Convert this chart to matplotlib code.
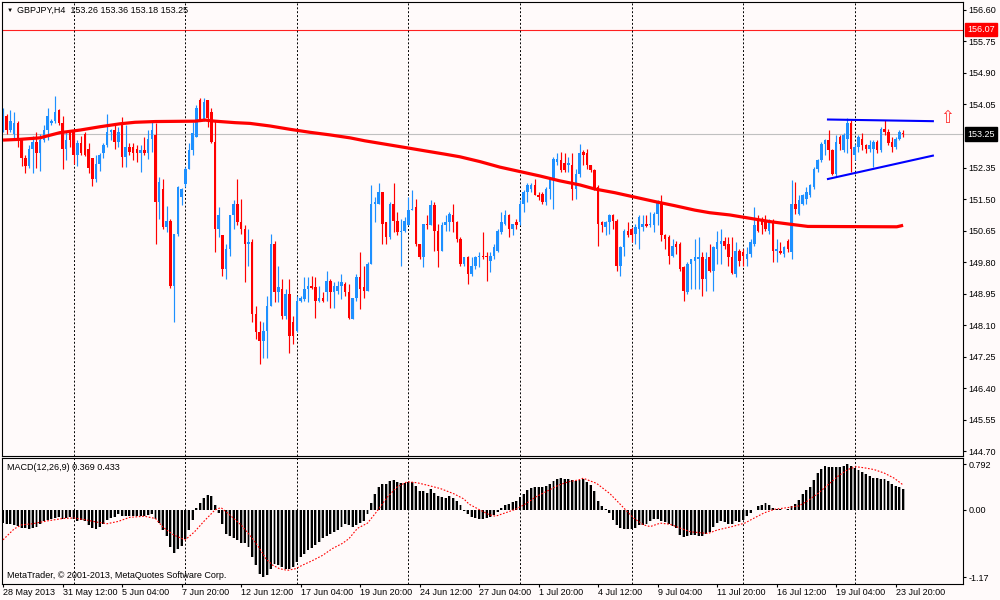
import matplotlib
matplotlib.use("Agg")
import matplotlib.pyplot as plt
import matplotlib.transforms as mtransforms
import numpy as np

# ----------------------------------------------------
# settings
# ----------------------------------------------------
plt.rcParams['font.family'] = ['Liberation Sans', 'DejaVu Sans']
BG = '#FFFAFA'
BULL = '#1E90FF'
BEAR = '#FF0000'
FS = 6.5

# ----------------------------------------------------
# data (GBPJPY H4, one entry per bar)
# ----------------------------------------------------
opens = [
    153.40, 153.75, 153.35, 153.25, 153.55, 153.10, 152.60, 152.40, 152.85, 153.05,
    152.75, 153.10, 153.35, 153.55, 153.60, 153.90, 153.55, 152.85, 153.30, 153.30,
    152.70, 153.00, 153.25, 152.85, 152.60, 152.05, 152.45, 152.75, 152.95, 153.30,
    153.35, 153.05, 153.54, 152.64, 152.91, 152.91, 152.86, 152.73, 152.82, 152.73,
    153.13, 153.22, 151.42, 151.78, 150.74, 150.92, 149.16, 150.56, 151.55, 151.90,
    152.32, 152.82, 153.18, 154.17, 153.63, 154.17, 153.86, 153.04, 150.70, 150.52,
    149.61, 150.15, 151.06, 151.37, 150.88, 150.70, 150.29, 150.35, 148.39, 147.90,
    147.67, 147.94, 148.62, 150.29, 148.98, 149.07, 148.35, 148.93, 148.17, 147.94,
    148.75, 148.80, 149.07, 149.16, 149.12, 148.75, 148.84, 148.98, 149.30, 148.98,
    149.03, 149.16, 149.21, 148.98, 148.26, 148.84, 149.39, 149.12, 149.03, 149.75,
    151.37, 151.37, 151.69, 150.88, 150.47, 151.37, 150.92, 150.61, 150.65, 150.79,
    151.19, 151.28, 150.29, 149.93, 150.83, 150.79, 151.33, 150.65, 150.11, 150.79,
    150.88, 151.06, 150.88, 150.42, 149.75, 149.93, 149.48, 149.70, 149.93, 149.97,
    149.97, 149.84, 149.97, 150.11, 150.61, 150.83, 151.06, 150.70, 150.88, 150.88,
    151.37, 151.69, 151.78, 151.87, 151.60, 151.64, 151.42, 151.78, 152.05, 152.50,
    152.55, 152.46, 152.41, 152.41, 151.78, 152.18, 152.77, 152.73, 152.41, 152.28,
    151.82, 150.88, 150.74, 150.88, 151.06, 150.92, 149.70, 150.20, 150.65, 150.70,
    150.56, 150.70, 150.74, 150.83, 150.79, 150.79, 151.10, 151.42, 150.52, 150.47,
    149.97, 150.29, 150.29, 149.66, 148.98, 149.75, 149.84, 149.88, 149.93, 149.34,
    149.93, 149.57, 150.15, 150.29, 150.38, 150.29, 149.93, 149.48, 150.11, 150.06,
    149.88, 150.02, 150.29, 150.92, 150.92, 150.92, 150.65, 150.92, 150.11, 150.11,
    150.02, 150.38, 150.06, 151.37, 151.10, 151.37, 151.51, 151.60, 151.82, 152.32,
    152.55, 152.99, 153.08, 152.82, 152.18, 153.18, 152.82, 153.13, 153.54, 152.68,
    152.91, 153.13, 152.95, 152.86, 152.86, 153.04, 152.82, 153.40, 153.31, 153.04,
    152.91, 153.13, 153.26,
]
highs = [
    153.95, 153.80, 153.90, 153.85, 153.60, 153.15, 152.70, 152.95, 153.20, 153.30,
    153.25, 153.50, 153.95, 153.65, 154.27, 153.92, 153.75, 153.30, 153.35, 153.35,
    153.10, 153.20, 153.30, 153.00, 152.60, 152.70, 152.75, 153.00, 153.80, 153.40,
    153.55, 153.45, 153.72, 153.50, 153.00, 153.00, 152.95, 152.95, 153.18, 153.36,
    153.59, 153.54, 152.10, 152.05, 151.30, 150.95, 150.56, 151.85, 151.80, 152.37,
    153.00, 153.59, 154.04, 154.22, 154.22, 154.17, 153.95, 153.63, 151.28, 150.52,
    150.29, 151.06, 151.46, 152.05, 151.51, 150.79, 150.70, 150.42, 148.62, 148.21,
    148.17, 148.89, 150.56, 150.38, 149.70, 149.34, 149.07, 149.34, 148.35, 148.89,
    148.89, 149.39, 149.39, 149.43, 149.39, 149.16, 148.98, 149.57, 149.34, 149.25,
    149.30, 149.48, 149.25, 149.21, 148.84, 149.48, 150.06, 149.70, 149.79, 151.87,
    151.55, 151.92, 151.69, 150.88, 151.42, 151.92, 151.15, 150.97, 151.01, 151.55,
    151.73, 151.51, 150.29, 150.83, 151.06, 151.46, 151.42, 150.83, 150.88, 151.06,
    151.15, 151.37, 150.92, 150.47, 149.93, 149.97, 149.93, 149.97, 150.06, 150.61,
    150.06, 150.06, 150.29, 150.70, 151.15, 151.19, 151.10, 150.83, 150.97, 151.46,
    151.73, 151.92, 151.92, 152.05, 151.69, 151.69, 151.82, 152.10, 152.64, 152.73,
    152.77, 152.73, 152.64, 152.73, 152.32, 152.99, 152.82, 152.86, 152.41, 152.32,
    151.87, 150.92, 150.92, 151.10, 151.10, 150.97, 150.24, 150.70, 150.88, 150.74,
    150.83, 151.06, 151.06, 151.06, 151.15, 151.15, 151.46, 151.60, 150.56, 150.52,
    150.42, 150.38, 150.33, 149.70, 149.79, 149.88, 150.42, 150.47, 150.06, 150.06,
    150.29, 150.24, 150.65, 150.70, 150.47, 150.47, 150.47, 150.33, 150.15, 150.15,
    150.20, 150.42, 151.28, 151.06, 151.01, 151.06, 150.97, 150.97, 150.42, 150.33,
    150.24, 150.42, 152.00, 151.96, 151.60, 151.64, 151.82, 151.91, 152.37, 152.59,
    153.04, 153.13, 153.36, 152.86, 153.22, 153.22, 153.27, 153.68, 153.63, 152.99,
    153.22, 153.27, 152.99, 153.09, 153.09, 153.09, 153.45, 153.63, 153.40, 153.18,
    153.18, 153.36, 153.36,
]
lows = [
    153.30, 153.25, 153.30, 153.15, 152.90, 152.40, 152.20, 152.35, 152.20, 152.35,
    152.25, 153.05, 153.10, 153.50, 153.55, 153.50, 152.30, 152.55, 152.90, 152.45,
    152.40, 152.70, 152.65, 152.20, 151.85, 151.95, 152.25, 152.60, 152.90, 153.10,
    152.85, 152.90, 152.37, 152.37, 152.70, 152.55, 152.50, 152.23, 152.68, 152.59,
    152.77, 150.29, 150.97, 150.70, 150.60, 149.10, 148.17, 150.50, 151.33, 151.82,
    152.32, 152.68, 153.18, 153.60, 153.60, 153.45, 153.00, 150.06, 150.47, 149.43,
    149.34, 149.97, 150.70, 150.79, 150.56, 149.25, 149.70, 148.17, 147.71, 147.04,
    147.22, 147.22, 148.62, 148.71, 148.71, 148.26, 148.26, 147.35, 147.58, 147.90,
    148.71, 148.75, 148.71, 149.07, 148.30, 148.71, 148.71, 148.75, 148.57, 148.57,
    148.93, 148.80, 148.89, 148.26, 148.26, 148.75, 148.53, 148.84, 149.03, 149.75,
    150.88, 151.37, 150.29, 150.29, 150.42, 150.61, 150.52, 149.70, 150.61, 150.79,
    151.19, 150.24, 149.88, 149.66, 150.70, 150.79, 150.11, 149.66, 150.11, 150.65,
    150.65, 150.61, 150.33, 149.70, 149.70, 149.20, 149.43, 149.61, 149.66, 149.88,
    149.30, 149.52, 149.88, 150.06, 150.56, 150.79, 150.47, 150.52, 150.70, 150.79,
    151.15, 151.42, 151.69, 151.60, 151.46, 151.37, 151.33, 151.51, 151.24, 152.41,
    152.23, 152.23, 152.23, 151.46, 151.51, 152.10, 152.41, 152.32, 152.23, 151.73,
    150.24, 150.61, 150.52, 150.56, 150.70, 149.57, 149.43, 149.97, 150.47, 150.33,
    150.29, 150.15, 150.65, 150.74, 150.74, 150.61, 150.79, 150.38, 150.15, 149.75,
    149.93, 150.02, 149.57, 148.75, 148.93, 149.07, 149.07, 149.07, 148.89, 149.03,
    149.52, 149.03, 149.75, 149.75, 150.15, 149.70, 149.48, 149.39, 149.70, 149.70,
    149.70, 149.93, 150.24, 150.61, 150.56, 150.65, 150.56, 149.79, 149.79, 150.02,
    149.93, 150.06, 149.88, 151.10, 151.06, 151.33, 151.37, 151.55, 151.78, 152.23,
    152.50, 152.68, 152.55, 152.14, 152.10, 152.82, 152.77, 152.73, 152.23, 152.55,
    152.77, 152.82, 152.73, 152.77, 152.37, 152.73, 152.77, 153.22, 152.95, 152.77,
    152.86, 153.09, 153.18,
]
closes = [
    153.75, 153.35, 153.60, 153.55, 153.10, 152.60, 152.40, 152.85, 153.05, 152.75,
    153.10, 153.35, 153.75, 153.60, 153.85, 153.55, 152.85, 153.10, 153.10, 152.70,
    153.00, 152.75, 152.70, 152.35, 152.05, 152.45, 152.70, 152.95, 153.30, 153.35,
    153.05, 153.32, 152.64, 152.91, 152.77, 152.73, 152.73, 152.82, 152.73, 153.13,
    153.36, 151.42, 151.96, 150.74, 150.92, 149.16, 150.56, 151.82, 151.78, 152.32,
    152.82, 153.27, 153.95, 153.63, 154.13, 153.68, 153.04, 150.70, 151.06, 149.61,
    150.15, 151.06, 151.37, 150.88, 150.70, 150.29, 150.35, 148.39, 147.90, 147.67,
    147.94, 148.62, 150.29, 148.98, 149.12, 148.35, 148.94, 147.80, 147.80, 148.75,
    148.84, 149.07, 149.16, 149.09, 148.75, 148.84, 148.76, 149.30, 148.98, 149.16,
    149.16, 149.25, 148.98, 148.30, 148.84, 149.39, 149.07, 149.03, 149.75, 151.37,
    151.42, 151.69, 150.83, 150.47, 151.37, 150.92, 150.61, 150.65, 150.92, 151.19,
    151.24, 150.29, 149.93, 150.83, 150.79, 151.33, 150.65, 150.11, 150.79, 150.88,
    151.10, 150.88, 150.42, 149.75, 149.93, 149.48, 149.70, 149.93, 149.97, 149.93,
    149.93, 149.97, 150.20, 150.65, 150.88, 151.06, 150.70, 150.83, 150.79, 151.37,
    151.69, 151.87, 151.87, 151.60, 151.55, 151.42, 151.78, 152.05, 152.59, 152.59,
    152.28, 152.28, 152.46, 151.78, 152.18, 152.73, 152.68, 152.41, 152.28, 151.78,
    150.83, 150.79, 150.88, 151.06, 150.92, 149.70, 150.20, 150.65, 150.52, 150.52,
    150.74, 151.01, 150.83, 150.76, 150.83, 151.10, 151.42, 150.52, 150.42, 149.97,
    150.24, 150.20, 149.61, 149.03, 149.75, 149.88, 149.93, 149.93, 149.34, 149.88,
    149.57, 150.20, 150.33, 150.38, 150.24, 149.93, 149.50, 150.11, 149.84, 149.97,
    150.02, 150.33, 150.79, 150.65, 150.79, 150.70, 150.92, 150.11, 150.15, 150.04,
    150.20, 150.15, 151.37, 151.24, 151.46, 151.60, 151.69, 151.87, 152.32, 152.55,
    152.99, 153.08, 152.82, 152.18, 153.04, 152.99, 153.22, 153.54, 152.86, 152.91,
    153.18, 152.95, 152.86, 152.95, 153.04, 152.82, 153.40, 153.31, 153.00, 152.91,
    153.13, 153.31, 153.25,
]

# MACD(12,26,9) main values, one per bar
macd_main = [
    -0.22, -0.24, -0.25, -0.26, -0.28, -0.31, -0.32, -0.33, -0.32, -0.30,
    -0.25, -0.20, -0.17, -0.16, -0.14, -0.13, -0.16, -0.14, -0.13, -0.16,
    -0.19, -0.17, -0.20, -0.26, -0.31, -0.33, -0.30, -0.25, -0.18, -0.14,
    -0.12, -0.08, -0.10, -0.10, -0.10, -0.11, -0.11, -0.11, -0.10, -0.09,
    -0.07, -0.15, -0.22, -0.35, -0.45, -0.65, -0.75, -0.68, -0.62, -0.50,
    -0.35, -0.18, 0.04, 0.12, 0.20, 0.26, 0.24, 0.08, -0.05, -0.25,
    -0.42, -0.46, -0.48, -0.52, -0.58, -0.58, -0.64, -0.82, -0.96, -1.12,
    -1.17, -1.13, -1.02, -0.94, -0.96, -0.99, -1.02, -1.02, -0.99, -0.91,
    -0.82, -0.76, -0.70, -0.67, -0.61, -0.55, -0.49, -0.45, -0.41, -0.38,
    -0.35, -0.29, -0.25, -0.26, -0.29, -0.26, -0.23, -0.20, -0.08, 0.12,
    0.27, 0.40, 0.45, 0.45, 0.51, 0.52, 0.49, 0.46, 0.46, 0.48,
    0.49, 0.42, 0.33, 0.33, 0.30, 0.36, 0.30, 0.24, 0.22, 0.20,
    0.24, 0.21, 0.16, 0.08, -0.02, -0.08, -0.12, -0.14, -0.15, -0.15,
    -0.14, -0.13, -0.09, -0.04, 0.04, 0.08, 0.11, 0.13, 0.16, 0.22,
    0.28, 0.34, 0.38, 0.39, 0.39, 0.39, 0.41, 0.45, 0.51, 0.54,
    0.55, 0.54, 0.53, 0.52, 0.51, 0.52, 0.54, 0.49, 0.44, 0.33,
    0.16, 0.06, 0.01, -0.05, -0.17, -0.26, -0.31, -0.33, -0.34, -0.34,
    -0.31, -0.27, -0.26, -0.24, -0.20, -0.15, -0.15, -0.19, -0.21, -0.25,
    -0.28, -0.32, -0.44, -0.47, -0.45, -0.44, -0.44, -0.45, -0.45, -0.42,
    -0.38, -0.29, -0.23, -0.20, -0.21, -0.25, -0.24, -0.20, -0.21, -0.17,
    -0.11, -0.05, -0.01, 0.06, 0.09, 0.12, 0.09, 0.04, 0.01, 0.01,
    -0.01, 0.01, 0.06, 0.11, 0.18, 0.27, 0.34, 0.40, 0.52, 0.64,
    0.71, 0.76, 0.75, 0.74, 0.75, 0.75, 0.76, 0.792, 0.76, 0.72,
    0.70, 0.66, 0.62, 0.59, 0.56, 0.55, 0.53, 0.53, 0.50, 0.45,
    0.42, 0.40, 0.369,
]

# MACD signal line (dotted), read at these bar positions
signal_bar = [0, 3, 5, 8, 12, 16, 19, 22, 25, 28, 31, 34, 38, 41, 43, 46, 49, 51.5,
              54, 57, 58.6, 61, 64, 67, 69, 70.7, 72.5, 74.3, 76.5, 78.7, 80.5, 83.2,
              85.9, 88.6, 91.3, 93, 95.3, 98, 100.6, 103.3, 106, 108.7, 111.4, 114,
              117.6, 121.2, 123.9, 125.3, 127.9, 130.6, 132.4, 135.1, 137.8, 140.4,
              143.1, 146.7, 149.4, 152.1, 154.8, 156, 159.6, 163.2, 166.8, 169.5,
              172.2, 174, 176.7, 179.4, 182.2, 184.8, 189.5, 192, 196, 199.4, 202,
              204.7, 207.4, 211, 214, 216.4, 219, 221.7, 224.4, 227.1, 229.3, 231.6,
              234.2, 236.9, 239.6, 242]
signal_val = [-0.52, -0.33, -0.26, -0.24, -0.19, -0.15, -0.14, -0.17, -0.21, -0.24,
              -0.20, -0.13, -0.11, -0.15, -0.30, -0.44, -0.52, -0.38, -0.20, 0.00,
              0.04, -0.09, -0.26, -0.49, -0.67, -0.85, -0.96, -1.02, -1.05, -1.02,
              -0.96, -0.88, -0.79, -0.67, -0.58, -0.50, -0.32, -0.23, -0.02, 0.22,
              0.40, 0.49, 0.47, 0.43, 0.37, 0.28, 0.19, 0.10, 0.01, -0.08, -0.11,
              -0.05, 0.01, 0.10, 0.22, 0.34, 0.43, 0.49, 0.52, 0.55, 0.46, 0.28,
              0.04, -0.14, -0.26, -0.29, -0.23, -0.25, -0.32, -0.38, -0.41, -0.35,
              -0.29, -0.23, -0.14, -0.05, 0.01, 0.04, 0.07, 0.16, 0.28, 0.43, 0.58,
              0.70, 0.75, 0.73, 0.70, 0.64, 0.55, 0.433]

# red moving average, read at these bar positions
ma_bar = [0, 4.6, 9.9, 15.3, 20.7, 26.1, 31.5, 35.5, 40.9, 51.6, 54.3, 57, 62.4,
          66.4, 71.8, 77.2, 82.5, 87.9, 93.3, 97.3, 102.7, 108.1, 113.4, 118.8,
          122.8, 128.2, 133.6, 139, 144.4, 149.7, 155.1, 159.1, 164.5, 169.9,
          175.3, 180.6, 186, 190, 195.4, 200.8, 206.2, 211.6, 216.4, 240.3, 242]
ma_val = [153.09, 153.11, 153.15, 153.29, 153.36, 153.45, 153.53, 153.57, 153.59,
          153.60, 153.63, 153.60, 153.56, 153.54, 153.47, 153.38, 153.30, 153.23,
          153.15, 153.07, 152.98, 152.89, 152.80, 152.71, 152.64, 152.51, 152.36,
          152.24, 152.12, 151.99, 151.88, 151.77, 151.67, 151.55, 151.43, 151.32,
          151.20, 151.13, 151.07, 150.98, 150.89, 150.82, 150.76, 150.75, 150.79]

# trend lines (triangle)
upper_bar = [221.8, 250.0]
upper_val = [153.645, 153.60]
lower_bar = [221.8, 250.0]
lower_val = [152.04, 152.67]

RES_LEVEL = 156.07
BID = 153.25
ARROW_BAR, ARROW_VAL = 253.8, 153.69

price_ticks = [156.60, 155.75, 154.90, 154.05, 152.35, 151.50, 150.65, 149.80,
               148.95, 148.10, 147.25, 146.40, 145.55, 144.70]
macd_ticks = [0.792, 0.0, -1.17]
macd_tick_labels = ['0.792', '0.00', '-1.17']

time_bars = [0, 16, 32, 48, 64, 80, 96, 112, 128, 144, 160, 176, 192, 208, 224, 240]
time_labels = ['28 May 2013', '31 May 12:00', '5 Jun 04:00', '7 Jun 20:00',
               '12 Jun 12:00', '17 Jun 04:00', '19 Jun 20:00', '24 Jun 12:00',
               '27 Jun 04:00', '1 Jul 20:00', '4 Jul 12:00', '9 Jul 04:00',
               '11 Jul 20:00', '16 Jul 12:00', '19 Jul 04:00', '23 Jul 20:00']
week_bars = [19, 49, 79, 109, 139, 169, 199, 229]

# ----------------------------------------------------
# figure
# ----------------------------------------------------
fig = plt.figure(figsize=(10, 6), dpi=100, facecolor=BG)
ax = fig.add_axes([0.002, 0.2405, 0.961, 0.7562], facecolor=BG)
ax2 = fig.add_axes([0.002, 0.0275, 0.961, 0.2087], facecolor=BG)

o = np.array(opens)
h = np.array(highs)
l = np.array(lows)
c = np.array(closes)
x = np.arange(len(c))
cols = np.where(c >= o, BULL, BEAR)

XMIN, XMAX = -0.27, 258.1

# weekly dotted separators
for b in week_bars:
    for a in (ax, ax2):
        a.axvline(b, color='black', lw=0.7, ls=(0, (2, 2)), zorder=0.8)

ax.axhline(BID, color='#C0C0C0', lw=0.8, zorder=0.5)
ax.axhline(RES_LEVEL, color='#FF2020', lw=0.8, zorder=0.5)

# candles
ax.vlines(x, l, h, colors=cols, linewidth=0.85, zorder=2)
body = np.maximum(np.abs(c - o), 0.03)
ax.bar(x, body, bottom=np.minimum(o, c), width=0.68, color=cols, linewidth=0, zorder=2.1)

# moving average
ax.plot(ma_bar, ma_val, color=BEAR, lw=2.3, solid_capstyle='butt', zorder=3)

# triangle lines
ax.plot(upper_bar, upper_val, color='#0000FF', lw=1.5, zorder=3)
ax.plot(lower_bar, lower_val, color='#0000FF', lw=1.5, zorder=3)

ax.text(ARROW_BAR, ARROW_VAL, '\u21e7', color='#FF3030', fontsize=12,
        ha='center', va='center', family=['DejaVu Sans'], zorder=4)

ax.set_xlim(XMIN, XMAX)
ax.set_ylim(144.574, 156.816)
ax.yaxis.tick_right()
ax.set_yticks(price_ticks)
ax.set_yticklabels([f'{v:.2f}' for v in price_ticks])
ax.tick_params(axis='y', direction='out', length=2.5, width=0.8, pad=1.5, labelsize=FS)
ax.tick_params(axis='x', bottom=False, labelbottom=False)

trans = mtransforms.blended_transform_factory(ax.transAxes, ax.transData)
ax.text(1.0045, BID, f'{BID:.2f}', transform=trans, ha='left', va='center',
        fontsize=FS, color='white', clip_on=False, zorder=5,
        bbox=dict(boxstyle='square,pad=0.25', fc='black', ec='black'))
ax.text(1.0045, RES_LEVEL, f'{RES_LEVEL:.2f}', transform=trans, ha='left', va='center',
        fontsize=FS, color='white', clip_on=False, zorder=5,
        bbox=dict(boxstyle='square,pad=0.25', fc='#FF0000', ec='#FF0000'))

# MACD panel
m = np.array(macd_main)
ax2.bar(x, m, width=0.8, color='#A8A8A8', linewidth=0, zorder=2)
ax2.bar(x, m, width=0.52, color='black', linewidth=0, zorder=2.1)
ax2.plot(signal_bar, signal_val, color='red', lw=0.8, ls=(0, (1.5, 1.5)), zorder=3)

ax2.set_xlim(XMIN, XMAX)
ax2.set_ylim(-1.278, 0.896)
ax2.yaxis.tick_right()
ax2.set_yticks(macd_ticks)
ax2.set_yticklabels(macd_tick_labels)
ax2.tick_params(axis='y', direction='out', length=2.5, width=0.8, pad=1.5, labelsize=FS)
ax2.set_xticks(time_bars)
ax2.set_xticklabels(time_labels)
ax2.tick_params(axis='x', direction='out', length=2.5, width=0.8, pad=1.0, labelsize=FS)
for t in ax2.get_xticklabels():
    t.set_horizontalalignment('left')

for a in (ax, ax2):
    for s in a.spines.values():
        s.set_color('black')
        s.set_linewidth(0.8)

# texts
fig.text(0.007, 1 - 10 / 600, '\u25bc', fontsize=4.5, ha='left', va='center')
fig.text(0.017, 1 - 10 / 600, 'GBPJPY,H4  153.26 153.36 153.18 153.25',
         fontsize=FS, ha='left', va='center')
fig.text(0.007, 1 - 467 / 600, 'MACD(12,26,9) 0.369 0.433', fontsize=FS,
         ha='left', va='center')
fig.text(0.007, 1 - 576 / 600, 'MetaTrader, \u00a9 2001-2013, MetaQuotes Software Corp.',
         fontsize=FS, ha='left', va='center')

fig.savefig('out.png', dpi=100, facecolor=BG)
